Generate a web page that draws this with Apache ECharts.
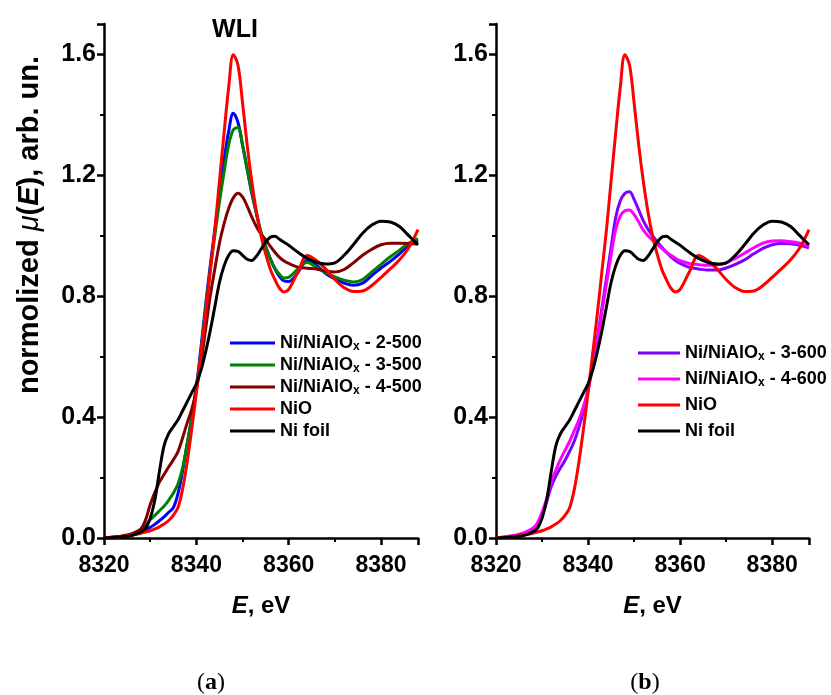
<!DOCTYPE html>
<html>
<head>
<meta charset="utf-8">
<title>Ni K-edge XANES</title>
<script src="https://cdn.jsdelivr.net/npm/echarts@6/dist/echarts.min.js"></script>
</head>
<body style="margin:0;background:#fff;">
<div id="main" style="width:831px;height:695px;"></div>
<script>
// energy grid, eV
var energy = [8320, 8322, 8324, 8326,
  8328, 8329, 8330, 8331, 8332, 8333, 8334, 8335, 8336, 8337, 8338, 8339, 8340,
  8341, 8342, 8343, 8344, 8345, 8346, 8347, 8348, 8349, 8350,
  8351, 8352, 8353, 8354, 8355, 8356, 8357, 8358, 8359, 8360,
  8362, 8364, 8366, 8368, 8370, 8372, 8374, 8376, 8378, 8380, 8382, 8384, 8386, 8388];

// reference spectra (both panels)
var nio = [0.000, 0.002, 0.005, 0.010,
  0.016, 0.020, 0.024, 0.030, 0.037, 0.046, 0.058, 0.075, 0.100, 0.160, 0.250, 0.360, 0.480,
  0.610, 0.740, 0.880, 1.020, 1.180, 1.340, 1.490, 1.598, 1.565, 1.440,
  1.300, 1.180, 1.080, 1.000, 0.940, 0.890, 0.855, 0.826, 0.814, 0.822,
  0.880, 0.934, 0.918, 0.890, 0.855, 0.828, 0.815, 0.817, 0.835, 0.862, 0.890, 0.920, 0.960, 1.020];
var niFoil = [0.000, 0.002, 0.004, 0.008,
  0.020, 0.032, 0.065, 0.125, 0.220, 0.305, 0.345, 0.368, 0.390, 0.420, 0.450, 0.480, 0.510,
  0.555, 0.615, 0.685, 0.765, 0.845, 0.900, 0.935, 0.950, 0.948, 0.935,
  0.922, 0.918, 0.932, 0.955, 0.978, 0.995, 0.998, 0.988, 0.978, 0.968,
  0.945, 0.925, 0.912, 0.906, 0.910, 0.935, 0.970, 1.008, 1.035, 1.048, 1.045, 1.030, 1.000, 0.970];

// panel (a)
var s2_500 = [0.000, 0.002, 0.005, 0.010,
  0.020, 0.028, 0.035, 0.045, 0.057, 0.070, 0.085, 0.100, 0.145, 0.220, 0.310, 0.400, 0.500,
  0.630, 0.770, 0.900, 1.020, 1.140, 1.250, 1.345, 1.405, 1.375, 1.300,
  1.220, 1.140, 1.073, 1.010, 0.965, 0.925, 0.890, 0.865, 0.850, 0.848,
  0.878, 0.918, 0.902, 0.875, 0.857, 0.843, 0.836, 0.843, 0.868, 0.893, 0.915, 0.940, 0.968, 0.985];
var s3_500 = [0.000, 0.003, 0.006, 0.012,
  0.025, 0.040, 0.060, 0.075, 0.090, 0.105, 0.125, 0.148, 0.178, 0.230, 0.310, 0.395, 0.495,
  0.615, 0.755, 0.885, 1.000, 1.110, 1.210, 1.300, 1.350, 1.358, 1.300,
  1.220, 1.145, 1.075, 1.012, 0.962, 0.922, 0.893, 0.872, 0.860, 0.862,
  0.890, 0.912, 0.895, 0.878, 0.864, 0.853, 0.847, 0.855, 0.880, 0.905, 0.930, 0.952, 0.975, 0.990];
var s4_500 = [0.000, 0.003, 0.007, 0.014,
  0.030, 0.060, 0.110, 0.150, 0.185, 0.210, 0.235, 0.258, 0.285, 0.330, 0.380, 0.425, 0.490,
  0.580, 0.690, 0.800, 0.890, 0.975, 1.040, 1.090, 1.125, 1.140, 1.128,
  1.098, 1.062, 1.030, 1.005, 0.987, 0.965, 0.945, 0.928, 0.916, 0.908,
  0.896, 0.892, 0.890, 0.883, 0.880, 0.888, 0.910, 0.935, 0.955, 0.970, 0.975, 0.975, 0.974, 0.972];

// panel (b)
var s3_600 = [0.000, 0.003, 0.007, 0.013,
  0.025, 0.045, 0.075, 0.120, 0.170, 0.205, 0.232, 0.257, 0.287, 0.320, 0.365, 0.420, 0.490,
  0.575, 0.660, 0.760, 0.860, 0.960, 1.060, 1.115, 1.140, 1.145, 1.120,
  1.085, 1.050, 1.022, 1.000, 0.980, 0.962, 0.945, 0.930, 0.918, 0.908,
  0.895, 0.890, 0.886, 0.886, 0.893, 0.905, 0.920, 0.940, 0.958, 0.970, 0.974, 0.973, 0.968, 0.960];
var s4_600 = [0.000, 0.004, 0.009, 0.017,
  0.032, 0.050, 0.085, 0.130, 0.185, 0.225, 0.260, 0.290, 0.320, 0.355, 0.390, 0.435, 0.490,
  0.565, 0.650, 0.745, 0.840, 0.935, 1.020, 1.065, 1.082, 1.085, 1.070,
  1.045, 1.018, 1.000, 0.985, 0.970, 0.958, 0.946, 0.935, 0.925, 0.917,
  0.908, 0.904, 0.902, 0.903, 0.910, 0.925, 0.942, 0.960, 0.975, 0.982, 0.983, 0.980, 0.975, 0.965];

var legendA = ['Ni/NiAlOx - 2-500', 'Ni/NiAlOx - 3-500', 'Ni/NiAlOx - 4-500', 'NiO', 'Ni foil'];
var legendB = ['Ni/NiAlOx - 3-600', 'Ni/NiAlOx - 4-600', 'NiO', 'Ni foil'];

var FONT = 'Liberation Sans';

function pairs(arr) {
  return energy.map(function (e, i) { return [e, arr[i]]; });
}

function line(name, arr, color, idx) {
  return {
    name: name, type: 'line', xAxisIndex: idx, yAxisIndex: idx,
    data: pairs(arr), showSymbol: false, smooth: 0.35, color: color,
    lineStyle: { width: 3, color: color }
  };
}

function xAx(idx) {
  return {
    type: 'value', gridIndex: idx, min: 8320, max: 8388, interval: 20,
    name: '{i|E}, eV', nameLocation: 'middle', nameGap: 56,
    nameTextStyle: {
      fontFamily: FONT, fontSize: 24, fontWeight: 'bold', color: '#000',
      rich: { i: { fontFamily: FONT, fontSize: 24, fontWeight: 'bold', fontStyle: 'italic', color: '#000' } }
    },
    axisLine: { lineStyle: { color: '#000', width: 2.5 } },
    axisTick: { length: 7, lineStyle: { color: '#000', width: 2.5 } },
    minorTick: { show: true, splitNumber: 2, length: 4, lineStyle: { color: '#000', width: 2 } },
    axisLabel: {
      margin: 16, fontFamily: FONT, fontSize: 23, fontWeight: 'bold', color: '#000',
      showMaxLabel: false, formatter: function (v) { return String(v); }
    },
    splitLine: { show: false }
  };
}

function yAx(idx) {
  return {
    type: 'value', gridIndex: idx, min: 0, max: 1.7, interval: 0.4,
    axisLine: { show: true, lineStyle: { color: '#000', width: 2.5 } },
    axisTick: { show: true, length: 7, lineStyle: { color: '#000', width: 2.5 } },
    minorTick: { show: true, splitNumber: 2, length: 4, lineStyle: { color: '#000', width: 2 } },
    axisLabel: {
      margin: 8, fontFamily: FONT, fontSize: 25, fontWeight: 'bold', color: '#000',
      showMaxLabel: false, formatter: function (v) { return v.toFixed(1); }
    },
    splitLine: { show: false }
  };
}

function legendFmt(name) {
  return name.replace('NiAlOx', 'NiAlO{s|x}');
}

function legend(names, left, top, width, gap) {
  return {
    data: names, orient: 'vertical', left: left, top: top, padding: 0,
    icon: 'rect', itemWidth: width, itemHeight: 3, itemGap: gap,
    formatter: legendFmt,
    textStyle: {
      fontFamily: FONT, fontSize: 18, fontWeight: 'bold', color: '#000', lineHeight: 20,
      rich: { s: { fontFamily: FONT, fontSize: 12, fontWeight: 'bold', color: '#000', lineHeight: 10, verticalAlign: 'bottom' } }
    }
  };
}

var chart = echarts.init(document.getElementById('main'));
chart.setOption({
  animation: false,
  backgroundColor: '#fff',
  grid: [
    { left: 104, top: 24, width: 314, bottom: 157 },
    { left: 496, top: 24, width: 313, bottom: 157 }
  ],
  xAxis: [xAx(0), xAx(1)],
  yAxis: [yAx(0), yAx(1)],
  legend: [legend(legendA, 230, 333, 45, 2), legend(legendB, 638, 343, 42, 6)],
  graphic: [
    {
      type: 'text', x: 30, y: 225, rotation: Math.PI / 2,
      style: {
        text: '{b|normolized }{m|\u03bc}{b|(}{e|E}{b|), arb. un.}',
        align: 'center', verticalAlign: 'middle',
        rich: {
          b: { fontFamily: FONT, fontSize: 29, fontWeight: 'bold', fill: '#000' },
          m: { fontFamily: FONT, fontSize: 29, fontStyle: 'italic', fill: '#000' },
          e: { fontFamily: FONT, fontSize: 29, fontWeight: 'bold', fontStyle: 'italic', fill: '#000' }
        }
      }
    },
    {
      type: 'text', x: 235, y: 30,
      style: { text: 'WLI', align: 'center', verticalAlign: 'middle', fontFamily: FONT, fontSize: 25, fontWeight: 'bold', fill: '#000' }
    },
    {
      type: 'text', x: 211, y: 683,
      style: {
        text: '({t|a})', align: 'center', verticalAlign: 'middle', fontFamily: 'Liberation Serif', fontSize: 24, fill: '#000',
        rich: { t: { fontFamily: 'Liberation Serif', fontSize: 24, fontWeight: 'bold', fill: '#000' } }
      }
    },
    {
      type: 'text', x: 645, y: 683,
      style: {
        text: '({t|b})', align: 'center', verticalAlign: 'middle', fontFamily: 'Liberation Serif', fontSize: 24, fill: '#000',
        rich: { t: { fontFamily: 'Liberation Serif', fontSize: 24, fontWeight: 'bold', fill: '#000' } }
      }
    }
  ],
  series: [
    line('Ni/NiAlOx - 2-500', s2_500, '#0000ff', 0),
    line('Ni/NiAlOx - 3-500', s3_500, '#008000', 0),
    line('Ni/NiAlOx - 4-500', s4_500, '#800000', 0),
    line('NiO', nio, '#ff0000', 0),
    line('Ni foil', niFoil, '#000000', 0),
    line('Ni/NiAlOx - 3-600', s3_600, '#7f00ff', 1),
    line('Ni/NiAlOx - 4-600', s4_600, '#ff00ff', 1),
    line('NiO', nio, '#ff0000', 1),
    line('Ni foil', niFoil, '#000000', 1)
  ]
});
</script>
</body>
</html>
